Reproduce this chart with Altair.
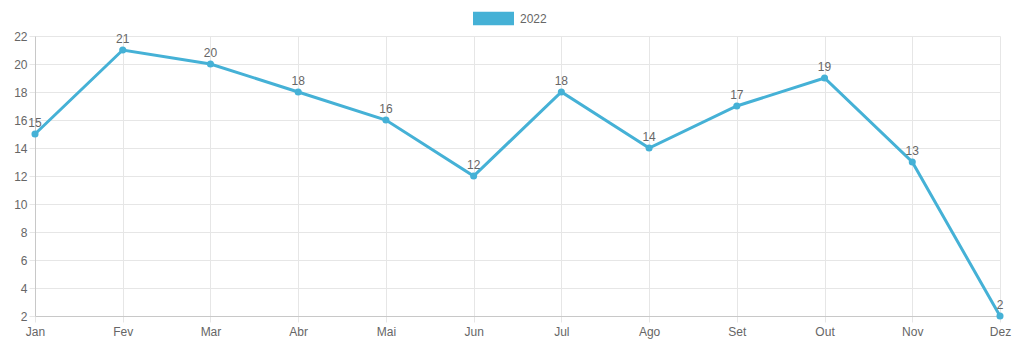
import altair as alt
import pandas as pd

months = ["Jan", "Fev", "Mar", "Abr", "Mai", "Jun", "Jul", "Ago", "Set", "Out", "Nov", "Dez"]
values = [15, 21, 20, 18, 16, 12, 18, 14, 17, 19, 13, 2]
series = ["2022"] * len(months)

df = pd.DataFrame({"mes": months, "valor": values, "serie": series})

color = "#45b1d6"
font = "Liberation Sans"

x = alt.X("mes:O", sort=months, title=None,
          scale=alt.Scale(type="point", padding=0),
          axis=alt.Axis(labelAngle=0, labelColor="#666", labelFontSize=12, labelFont=font,
                        grid=True, gridColor="#e6e6e6", domainColor="#c8c8c8",
                        tickColor="#e6e6e6", tickSize=6, labelPadding=4))
y = alt.Y("valor:Q", title=None,
          scale=alt.Scale(domain=[2, 22], nice=False, zero=False),
          axis=alt.Axis(values=list(range(2, 23, 2)), labelColor="#666", labelFontSize=12,
                        labelFont=font, gridColor="#e6e6e6", domainColor="#c8c8c8",
                        tickColor="#e6e6e6", tickSize=6, labelPadding=2))

base = alt.Chart(df).encode(x=x, y=y)

line = base.mark_line(strokeWidth=3).encode(
    color=alt.Color("serie:N", scale=alt.Scale(domain=["2022"], range=[color]),
                    legend=alt.Legend(title=None, orient="none", legendX=438, legendY=-38,
                                      symbolType="M-1,-0.33H1V0.33H-1Z", symbolSize=1681,
                                      symbolStrokeWidth=0, symbolFillColor=color,
                                      labelColor="#666", labelFontSize=12, labelFont=font,
                                      labelOffset=6))
)
points = base.mark_circle(size=50, opacity=1, color=color)
labels = base.mark_text(dy=-11, fontSize=12, color="#666", font=font).encode(text="valor:Q")

chart = alt.layer(line, points, labels).properties(
    width=965, height=280,
    padding={"left": 35, "top": 36, "right": 24, "bottom": 38},
    autosize=alt.AutoSizeParams(type="none"),
    background="white",
).configure_view(stroke=None)

chart.save("out.html", embed_options={"renderer": "svg", "actions": False})
